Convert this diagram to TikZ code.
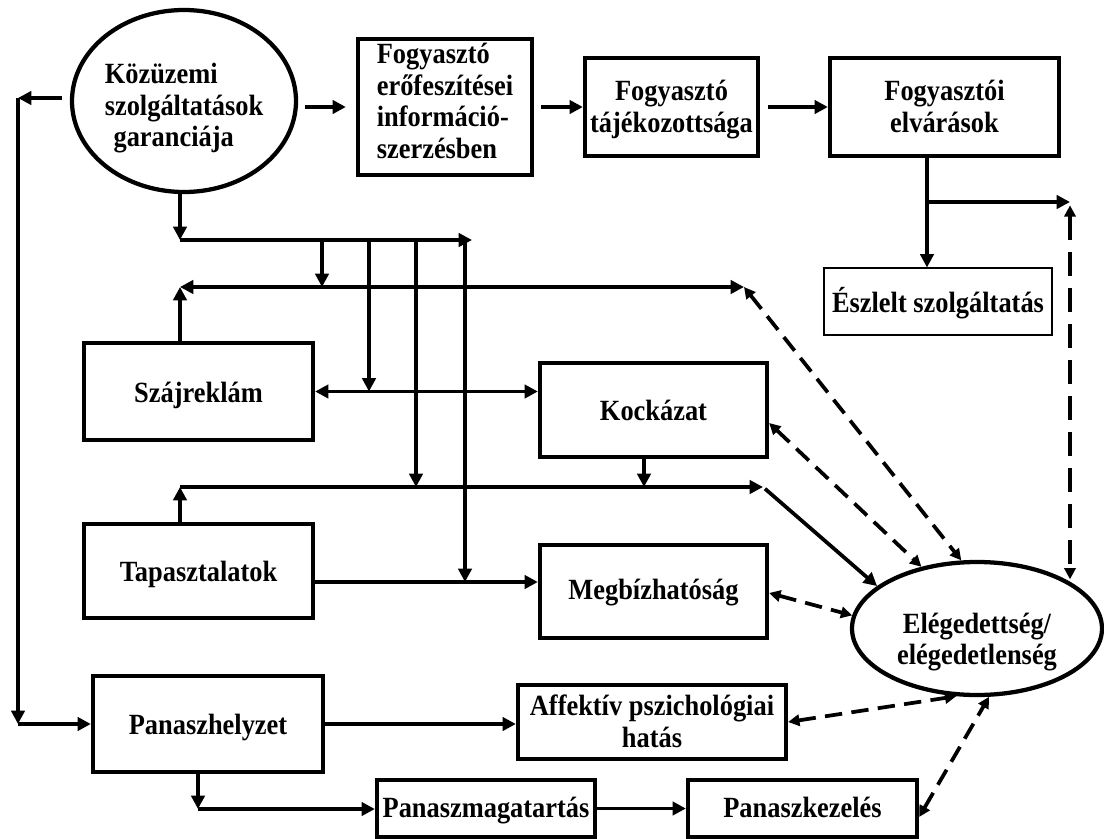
\documentclass[tikz,border=0pt]{standalone}
\usepackage{fontspec}
\setmainfont[FakeStretch=0.9]{Liberation Serif}
\usetikzlibrary{arrows.meta,shapes.geometric}

% text block lowered by #1 without changing its reported size
\newcommand{\tx}[3][3.2pt]{\raisebox{-#1}[\height][\depth]{\begin{tabular}{@{}#2@{}}#3\end{tabular}}}

\begin{document}
\begin{tikzpicture}[x=0.75pt,y=-0.75pt,
  every node/.style={font=\fontsize{22pt}{23.6pt}\selectfont\bfseries},
  box/.style={draw, line width=3.2pt, rectangle, inner sep=0pt},
  thinbox/.style={draw, line width=0.8pt, rectangle, inner sep=0pt},
  oval/.style={draw, line width=3.2pt, ellipse, inner sep=0pt},
  arr/.style={line width=2.8pt, -{Triangle[length=10pt,width=10pt]}},
  arrb/.style={line width=2.8pt, {Triangle[length=10pt,width=10pt]}-{Triangle[length=10pt,width=10pt]}},
  dashd/.style={line width=2.8pt, dash pattern=on 13pt off 7pt,
    {Triangle[length=8.5pt,width=8.5pt]}-{Triangle[length=8.5pt,width=8.5pt]}},
  dashv/.style={line width=2.8pt, dash pattern=on 18pt off 9pt,
    {Triangle[length=8.5pt,width=8.5pt]}-{Triangle[length=8.5pt,width=8.5pt]}},
]
\useasboundingbox (0,0) rectangle (1104,839);

% ---- nodes ----
\node[oval, minimum width=167pt, minimum height=136.5pt] (gar) at (184,101)
  {\tx[5.8pt]{l}{Közüzemi\\szolgáltatások\\\hspace*{0.3em}garanciája}};

\node[box, minimum width=130.5pt, minimum height=102pt] (info) at (445,107)
  {\tx[-1.7pt]{l}{Fogyasztó\\erőfeszítései\\információ-\\szerzésben}};
\node[box, minimum width=129.75pt, minimum height=73.5pt] (taj) at (671.5,107)
  {\tx[2.4pt]{c}{Fogyasztó\\tájékozottsága}};
\node[box, minimum width=171.75pt, minimum height=73.5pt] (elv) at (944.5,107)
  {\tx[2.4pt]{c}{Fogyasztói\\elvárások}};
\node[thinbox, minimum width=171pt, minimum height=50.25pt] (esz) at (938,301.5)
  {\tx[2.4pt]{c}{Észlelt szolgáltatás}};

\node[box, minimum width=171.75pt, minimum height=72.75pt] (szaj) at (198.5,391.5) {\tx{c}{Szájreklám}};
\node[box, minimum width=171.75pt, minimum height=70.5pt] (tap) at (198.5,571) {\tx{c}{Tapasztalatok}};
\node[box, minimum width=170.25pt, minimum height=70.5pt] (kock) at (653.5,410) {\tx{c}{Kockázat}};
\node[box, minimum width=170.25pt, minimum height=69.75pt] (megb) at (653.5,591.5) {\tx[1.6pt]{c}{Megbízhatóság}};

\node[oval, minimum width=187.5pt, minimum height=99.75pt] (elege) at (977,628.5)
  {\tx[10.5pt]{c}{Elégedettség/\\elégedetlenség}};

\node[box, minimum width=172.5pt, minimum height=72pt] (pan) at (208,724) {\tx{c}{Panaszhelyzet}};
\node[box, minimum width=201pt, minimum height=55.5pt] (aff) at (652,722)
  {\tx[2.4pt]{c}{Affektív pszichológiai\\hatás}};
\node[box, minimum width=163.5pt, minimum height=42.75pt] (pmag) at (486,808.5) {\tx[2pt]{c}{Panaszmagatartás}};
\node[box, minimum width=171.75pt, minimum height=42.75pt] (pkez) at (802.5,808.5) {\tx[2pt]{c}{Panaszkezelés}};

% ---- junction points ----
\coordinate (vL) at (18,98);
\coordinate (vLb) at (18,724);
\coordinate (eb) at (927,202);
\coordinate (ee) at (1070,202);
\coordinate (hA) at (180,240);
\coordinate (hB) at (472,240);
\coordinate (r1w) at (180,287);
\coordinate (r1e) at (744,287);
\coordinate (r2w) at (180,487);
\coordinate (r2e) at (763,487);
\coordinate (tmW) at (tap.east |- 0,582);
\coordinate (pd) at (198,809);

% ---- top chain ----
\draw[arr, shorten <=5pt, shorten >=7.5pt] (gar.east |- info.west) -- (info.west);
\draw[arr, shorten <=5pt] (info.east) -- (taj.west);
\draw[arr, shorten <=6pt] (taj.east) -- (elv.west);
\draw[arr] (elv.south -| eb) -- (esz.north -| eb);
\draw[arr] (eb) -- (ee);
\draw[dashv, shorten <=2.5pt] (ee) -- (ee |- elege.29);

% ---- left loop to complaint situation ----
\draw[arr, shorten <=6pt] (gar.west |- vL) -- (vL);
\draw[arr] (vL) -- (vLb);
\draw[arr] (vLb) -- (pan.west);

% ---- distribution lines below the guarantee ----
\draw[arr] (gar.south -| hA) -- (hA);
\draw[arr] (hA) -- (hB);
\draw[arr] (hA -| 322,0) -- (r1w -| 322,0);
\draw[arr] (hA -| 369,0) -- (szaj.east -| 369,0);
\draw[arr] (hA -| 416,0) -- (r2w -| 416,0);
\draw[arr] (hA -| 465,0) -- (tmW -| 465,0);

\draw[arrb] (r1w) -- (r1e);
\draw[arr] (szaj.north -| r1w) -- (r1w);
\draw[arrb] (szaj.east) -- (szaj.east -| kock.west);
\draw[arr] (kock.south -| 644,0) -- (r2w -| 644,0);
\draw[arr] (tap.north -| r2w) -- (r2w);
\draw[arr] (r2w) -- (r2e);
\draw[arr, shorten <=2pt] (r2e) -- (elege.157);
\draw[arr] (tmW) -- (tmW -| megb.west);

% ---- dashed feedback to satisfaction ----
\draw[dashd] (kock.east |- 0,423) -- (elege.132);
\draw[dashd] (r1e) -- (elege.103);
\draw[dashd] (megb.east |- 0,593) -- (elege.174);
\draw[dashd] (aff.east) -- (elege.253);
\draw[dashd] (pkez.east |- 0,817) -- (elege.280);

% ---- complaint chain ----
\draw[arr] (pan.east) -- (pan.east -| aff.west);
\draw[arr] (pan.south -| pd) -- (pd);
\draw[arr] (pd) -- (pd -| pmag.west);
\draw[arr] (pmag.east) -- (pkez.west);
\end{tikzpicture}
\end{document}
